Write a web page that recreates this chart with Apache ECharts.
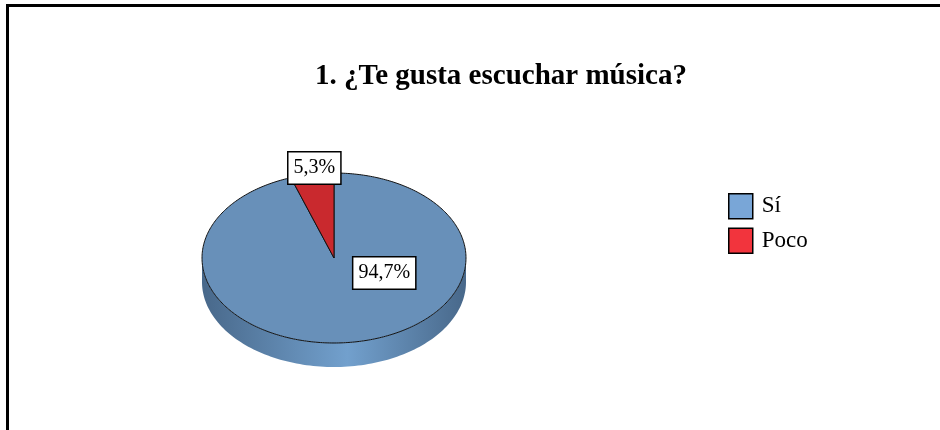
<!DOCTYPE html>
<html><head><meta charset="utf-8">
<script src="https://cdn.jsdelivr.net/npm/echarts@6/dist/echarts.min.js"></script>
<style>html,body{margin:0;padding:0;background:#fff}#c{width:940px;height:430px}</style>
</head><body><div id="c"></div>
<script>
const categories = ['Sí', 'Poco'];
const values = [94.7, 5.3];
const valueLabels = ['94,7%', '5,3%'];

const pieColors = ['#6890b9', '#c9292e'];
const sideColors = [['#48688a', '#72a0cd'], ['#8e1c20', '#b52529']];
const legendColors = ['#79a6d7', '#f2343d'];

const total = values.reduce((a, b) => a + b, 0);
const starts = [];
let cum = 0;
values.forEach(v => { starts.push(cum); cum += v; });

// layout of the tilted pie
const CX = 334, CY = 258, RX = 132, RY = 85, DEPTH = 24;
// label placement: angle (deg, screen) and fraction of radius
const labelPlace = [{ ang: 25, f: 0.42 }, { ang: 262, f: 1.07 }];

function ell(t, dy) { return [CX + RX * Math.cos(t), CY + RY * Math.sin(t) + (dy || 0)]; }

function makeRender(i) {
  return function (params, api) {
    const a0 = -Math.PI / 2 + starts[i] / total * 2 * Math.PI;
    const a1 = a0 + api.value(0) / total * 2 * Math.PI;
    const children = [];
    const N = 120;
    // visible side wall (lower half of ellipse)
    for (let k = -1; k <= 2; k++) {
      const lo = Math.max(a0, 2 * Math.PI * k), hi = Math.min(a1, 2 * Math.PI * k + Math.PI);
      if (hi > lo) {
        const pts = [];
        for (let s = 0; s <= N; s++) pts.push(ell(lo + (hi - lo) * s / N, 0));
        for (let s = N; s >= 0; s--) pts.push(ell(lo + (hi - lo) * s / N, DEPTH));
        children.push({
          type: 'polygon', z2: 1, shape: { points: pts },
          style: {
            fill: new echarts.graphic.LinearGradient(0, 0, 1, 0, [
              { offset: 0, color: sideColors[i][0] },
              { offset: 0.55, color: sideColors[i][1] },
              { offset: 1, color: sideColors[i][0] }
            ]),
            stroke: null
          }
        });
      }
    }
    // top face
    const top = [[CX, CY]];
    const M = Math.max(4, Math.ceil((a1 - a0) / (2 * Math.PI) * 360));
    for (let s = 0; s <= M; s++) top.push(ell(a0 + (a1 - a0) * s / M, 0));
    children.push({
      type: 'polygon', z2: 5, shape: { points: top },
      style: { fill: pieColors[i], stroke: '#111', lineWidth: 1 }
    });
    // label
    const lp = labelPlace[i];
    const la = lp.ang * Math.PI / 180;
    children.push({
      type: 'text', z2: 20,
      x: CX + lp.f * RX * Math.cos(la), y: CY + lp.f * RY * Math.sin(la),
      style: {
        text: valueLabels[i], font: '20px "Liberation Serif"', fill: '#000',
        align: 'center', verticalAlign: 'middle',
        backgroundColor: '#fff', borderColor: '#000', borderWidth: 1.5,
        padding: [6, 5, 5, 5]
      }
    });
    return { type: 'group', children: children };
  };
}

const chart = echarts.init(document.getElementById('c'), null, { renderer: 'canvas' });
chart.setOption({
  animation: false,
  title: {
    text: '1. ¿Te gusta escuchar música?', left: 315, top: 62, padding: 0,
    textStyle: { fontFamily: 'Liberation Serif', fontSize: 29, fontWeight: 'bold', color: '#000' }
  },
  legend: {
    left: 728, top: 193, orient: 'vertical', icon: 'rect', padding: 0,
    itemWidth: 24, itemHeight: 25, itemGap: 8, selectedMode: false,
    textStyle: { fontFamily: 'Liberation Serif', fontSize: 23, color: '#000', padding: [0, 0, 0, 4] },
    itemStyle: { borderColor: '#000', borderWidth: 1.5 },
    data: categories.map((c, i) => ({ name: c, itemStyle: { color: legendColors[i], borderColor: '#000', borderWidth: 1.5 } }))
  },
  graphic: [{
    type: 'rect', silent: true, z: 100,
    shape: { x: 7.5, y: 5.5, width: 1000, height: 1000 },
    style: { fill: null, stroke: '#000', lineWidth: 3 }
  }],
  series: categories.map((c, i) => ({
    type: 'custom', name: c, coordinateSystem: 'none',
    itemStyle: { color: legendColors[i] },
    renderItem: makeRender(i),
    data: [values[i]]
  }))
});
</script></body></html>
